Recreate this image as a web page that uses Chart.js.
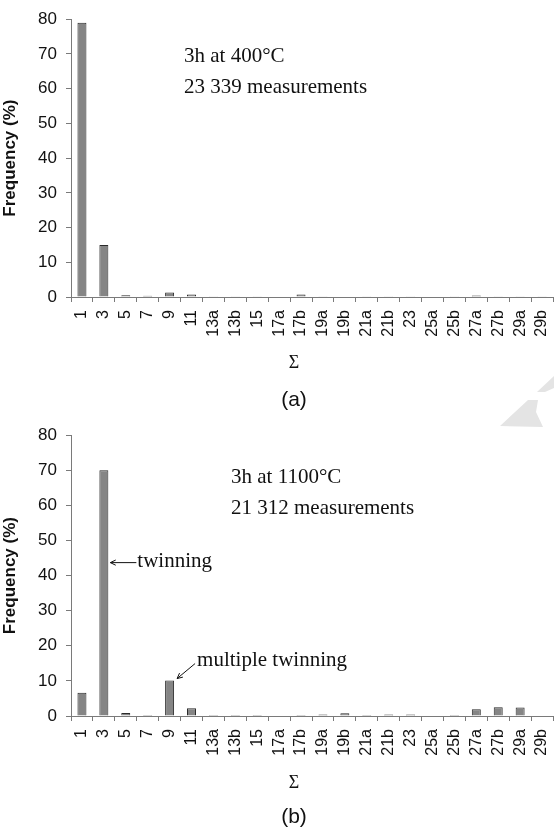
<!DOCTYPE html>
<html>
<head>
<meta charset="utf-8">
<script src="https://cdn.jsdelivr.net/npm/chart.js@4.4.1/dist/chart.umd.min.js"></script>
<style>
  html, body { margin: 0; padding: 0; background: #fff; }
  #page { position: relative; width: 554px; height: 833px; overflow: hidden; }
  .panel { position: absolute; left: 0; width: 554px; }
  #panelA { top: 0; height: 416px; }
  #panelB { top: 416px; height: 417px; }
  #mark { position: absolute; left: 0; top: 0; pointer-events: none; }
</style>
</head>
<body>
<div id="page">
  <div class="panel" id="panelA"><canvas id="chartA"></canvas></div>
  <div class="panel" id="panelB"><canvas id="chartB"></canvas></div>
  <svg id="mark" width="554" height="833">
    <polygon points="500,426 528,400 538,400 536,412 543,427" fill="#e4e4e4"/>
    <polygon points="537,392 554,376 554,388 545,392" fill="#e4e4e4"/>
  </svg>
</div>

<script>
// Sigma categories of the grain boundaries
const sigmaLabels = ['1', '3', '5', '7', '9', '11', '13a', '13b', '15', '17a', '17b',
                     '19a', '19b', '21a', '21b', '23', '25a', '25b', '27a', '27b', '29a', '29b'];

// frequency in % for each Sigma, 3h at 400°C
const freq400 = [79, 15, 0.5, 0.35, 1.3, 0.7, 0.25, 0.25, 0.25, 0, 0.7,
                 0.25, 0, 0.25, 0.25, 0.25, 0, 0.25, 0.4, 0.25, 0.25, 0.25];

// frequency in % for each Sigma, 3h at 1100°C
const freq1100 = [6.6, 70, 0.85, 0.25, 10.1, 2.2, 0.25, 0.25, 0.25, 0, 0.25,
                  0.45, 0.75, 0.3, 0.45, 0.45, 0, 0.25, 1.9, 2.5, 2.4, 0];

const notes400 = ['3h at 400°C', '23 339 measurements'];
const notes1100 = ['3h at 1100°C', '21 312 measurements'];

const yTicks = [0, 10, 20, 30, 40, 50, 60, 70, 80];

const SERIF = '"Liberation Serif", "Times New Roman", serif';
const SANS = '"Liberation Sans", Arial, sans-serif';

// text in the plot (condition + count), the Σ axis name and the panel letter
const notesPlugin = {
    id: 'notes',
    afterDraw(chart, args, opts) {
        const ctx = chart.ctx;
        const area = chart.chartArea;
        ctx.save();
        ctx.fillStyle = '#111';
        ctx.font = '21px ' + SERIF;
        ctx.textBaseline = 'middle';
        ctx.textAlign = 'left';
        opts.lines.forEach((line, i) => {
            ctx.fillText(line, area.left + opts.dx, area.top + opts.dy + i * 31);
        });

        const cx = area.left + 223;
        ctx.textAlign = 'center';
        ctx.font = '18px ' + SERIF;
        ctx.fillText('Σ', cx, area.bottom + opts.sigmaY);
        ctx.font = '21px ' + SANS;
        ctx.fillText(opts.caption, cx, area.bottom + opts.captionY);
        ctx.restore();
    }
};

function drawArrow(ctx, x1, y1, x2, y2) {
    // line from (x1,y1) to the head at (x2,y2)
    const ang = Math.atan2(y2 - y1, x2 - x1);
    ctx.beginPath();
    ctx.moveTo(x1, y1);
    ctx.lineTo(x2, y2);
    ctx.moveTo(x2 - 6 * Math.cos(ang - 0.45), y2 - 6 * Math.sin(ang - 0.45));
    ctx.lineTo(x2, y2);
    ctx.lineTo(x2 - 6 * Math.cos(ang + 0.45), y2 - 6 * Math.sin(ang + 0.45));
    ctx.stroke();
}

// twinning / multiple twinning labels pointing at the Sigma 3 and Sigma 9 bars
const twinPlugin = {
    id: 'twins',
    afterDraw(chart) {
        const ctx = chart.ctx;
        const y = chart.scales.y;
        const bars = chart.getDatasetMeta(0).data;
        ctx.save();
        ctx.strokeStyle = '#111';
        ctx.lineWidth = 1;
        ctx.fillStyle = '#111';
        ctx.font = '21px ' + SERIF;
        ctx.textBaseline = 'middle';
        ctx.textAlign = 'left';

        const b3 = bars[1];
        const ty = y.getPixelForValue(43.7);
        const hx = b3.x + b3.width / 2 + 2;
        drawArrow(ctx, hx + 26, ty, hx, ty);
        ctx.fillText('twinning', hx + 27, ty - 1);

        const b9 = bars[4];
        const mx = b9.x + b9.width / 2 + 3;
        const my = b9.y - 2;
        drawArrow(ctx, mx + 18, my - 15, mx, my);
        ctx.fillText('multiple twinning', mx + 20, my - 18);
        ctx.restore();
    }
};

function makeChart(canvasId, values, notes, caption, opts) {
    const ctx = document.getElementById(canvasId).getContext('2d');
    return new Chart(ctx, {
        type: 'bar',
        data: {
            labels: sigmaLabels,
            datasets: [{
                data: values,
                backgroundColor: '#858585',
                borderColor: '#2a2a2a',
                borderWidth: 1,
                categoryPercentage: 1,
                barPercentage: 0.41
            }]
        },
        plugins: opts.twins ? [notesPlugin, twinPlugin] : [notesPlugin],
        options: {
            responsive: true,
            maintainAspectRatio: false,
            animation: false,
            layout: { padding: { top: opts.top, right: 1, left: 0, bottom: 0 } },
            scales: {
                x: {
                    afterFit: scale => {
                        scale.height = opts.xHeight;
                        scale.paddingLeft = 0;
                        scale.paddingRight = 0;
                    },
                    border: { color: '#7a7a7a', width: 1 },
                    grid: { display: true, drawOnChartArea: false, offset: true, tickLength: 5, color: '#7a7a7a' },
                    ticks: {
                        autoSkip: false, minRotation: 90, maxRotation: 90, padding: 8,
                        color: '#111', font: { family: SANS, size: 16 }
                    }
                },
                y: {
                    min: 0,
                    max: 80,
                    afterFit: scale => { scale.width = 71; },
                    afterBuildTicks: scale => { scale.ticks = yTicks.map(v => ({ value: v })); },
                    border: { color: '#7a7a7a', width: 1 },
                    grid: { display: true, drawOnChartArea: false, tickLength: 5, color: '#7a7a7a' },
                    ticks: { padding: 9, color: '#111', font: { family: SANS, size: 17 } },
                    title: {
                        display: true, text: 'Frequency (%)', color: '#111',
                        font: { family: SANS, size: 17, weight: 'bold' }, padding: { top: 0, bottom: 10 }
                    }
                }
            },
            plugins: {
                legend: { display: false },
                tooltip: { enabled: false },
                notes: {
                    lines: notes, dx: opts.noteX, dy: opts.noteY,
                    caption: caption, sigmaY: opts.sigmaY, captionY: opts.captionY
                }
            }
        }
    });
}

makeChart('chartA', freq400, notes400, '(a)',
          { top: 15, xHeight: 119, noteX: 113, noteY: 37, sigmaY: 66, captionY: 103, twins: false });
makeChart('chartB', freq1100, notes1100, '(b)',
          { top: 18, xHeight: 117, noteX: 160, noteY: 42, sigmaY: 67, captionY: 101, twins: true });
</script>
</body>
</html>
